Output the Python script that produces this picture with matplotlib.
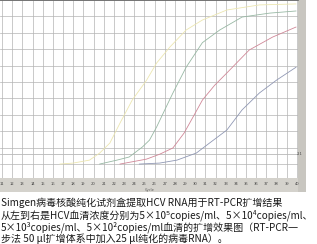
import matplotlib
matplotlib.use("Agg")
import matplotlib.pyplot as plt
from matplotlib.patches import Rectangle

# cycle numbers and fluorescence, one curve per dilution
cyc_yellow=[16.7,18.0,19.6,20.6,21.6,22.6,23.8,25.2,26.2,27.5,29.1,30.7,33.1,36.3,39.9]
val_yellow=[0,0.06,0.24,0.67,1.28,2.5,3.9,5.1,6.16,7.13,8.17,8.78,9.39,9.7,9.76]

cyc_green=[20.6,22.3,23.5,24.8,25.5,26.2,27.0,27.8,29.1,30.7,32.4,34.6,37.3,39.9]
val_green=[0,0.24,0.43,1.04,1.46,2.26,3.3,4.33,5.9,7.4,8.17,8.96,9.2,9.33]

cyc_red=[22.6,25.2,26.5,27.8,28.9,29.9,30.7,31.9,33.1,35.3,37.6,39.9]
val_red=[0,0.3,0.6,0.98,1.89,3.0,3.9,4.8,5.55,6.95,7.74,8.35]

cyc_blue=[24.5,26.5,28.2,30.1,31.4,33.1,34.6,36.3,38.0,39.9]
val_blue=[0,0.06,0.24,0.67,1.28,2.07,3.3,4.33,5.12,5.9]

threshold=0.6
cycles=list(range(11,41))
caption=[
    "Simgen病毒核酸纯化试剂盒提取HCV RNA用于RT-PCR扩增结果",
    "从左到右是HCV血清浓度分别为5×10⁵copies/ml、5×10⁴copies/ml、",
    "5×10³copies/ml、5×10²copies/ml血清的扩增效果图（RT-PCR一",
    "步法 50 μl扩增体系中加入25 μl纯化的病毒RNA）。",
]

plt.rcParams['font.family']=['Noto Sans CJK SC','DejaVu Sans']

W,H=317,244
fig=plt.figure(figsize=(W/100,H/100),dpi=100)
fig.patch.set_facecolor("white")

# grey frame strips of the screenshot
fig.add_artist(Rectangle((0,1-192/H),306/W,14/H,transform=fig.transFigure,
                         facecolor="#d4d2cc",edgecolor="none",zorder=-5))
fig.add_artist(Rectangle((298/W,1-192/H),8/W,192/H,transform=fig.transFigure,
                         facecolor="#c8c6c0",edgecolor="none",zorder=-5))

ax=fig.add_axes([0,1-178/H,298/W,178/H])
ax.set_xlim(10.8,40.1)
ax.set_ylim(-0.85,10)
ax.set_xticks(cycles)
ax.set_xticklabels([str(c) for c in cycles],fontsize=3,color="#444444")
ax.tick_params(axis="x",length=0,pad=3)
ax.set_yticks(range(0,11))
ax.tick_params(axis="y",length=0,labelleft=False)
ax.grid(True,color="#b4b4b4",linewidth=0.5)
ax.set_axisbelow(True)
for s in ["left","right","bottom"]:
    ax.spines[s].set_visible(False)
ax.spines["top"].set_color("#666666")
ax.spines["top"].set_linewidth(1.2)

ax.axhline(threshold,color="#b8b8b8",linewidth=0.6)
ax.plot(cyc_yellow,val_yellow,color="#ece6b0",linewidth=0.6)
ax.plot(cyc_green,val_green,color="#98b8a4",linewidth=0.6)
ax.plot(cyc_red,val_red,color="#d08898",linewidth=0.6)
ax.plot(cyc_blue,val_blue,color="#9098b4",linewidth=0.6)
ax.text(39.95,threshold,"2.1",fontsize=3,color="#444444",ha="left",va="center",clip_on=False)
fig.text(150/W,1-190/H,"Cycle",fontsize=2.8,color="#555555",ha="center",va="center")

ys=[203,215,227,239]
for line,y in zip(caption,ys):
    fig.text(1/W,1-y/H,line,fontsize=7.2,color="#1a1a1a",ha="left",va="center",
             fontweight="medium")

fig.savefig("out.png",dpi=100)
